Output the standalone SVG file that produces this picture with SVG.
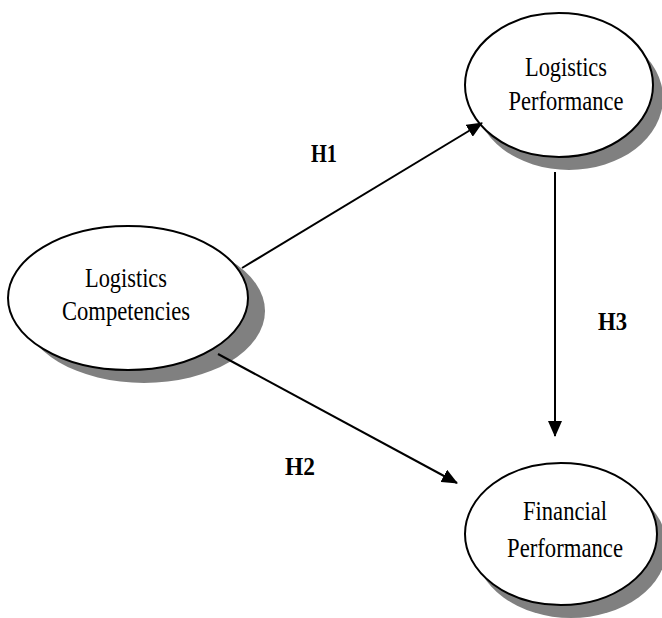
<svg xmlns="http://www.w3.org/2000/svg" width="662" height="618" viewBox="0 0 662 618">
  <style>
    .shadow { fill: #808080; stroke: none; }
    .node { fill: #ffffff; stroke: #000000; stroke-width: 2; }
    .label { font-family: "Liberation Serif", "Times New Roman", serif; font-size: 28px; fill: #000; text-anchor: middle; }
    .hyp { font-family: "Liberation Serif", "Times New Roman", serif; font-size: 26px; font-weight: bold; fill: #000; }
    .edge { stroke: #000; stroke-width: 2; fill: none; marker-end: url(#head); }
  </style>
  <defs>
    <marker id="head" viewBox="0 0 16 14" refX="15" refY="7" markerWidth="16" markerHeight="14" markerUnits="userSpaceOnUse" orient="auto">
      <path d="M0,0 L16,7 L0,14 Z" fill="#000"/>
    </marker>
  </defs>

  <rect width="662" height="618" fill="#ffffff"/>

  <g id="logistics-competencies">
    <ellipse class="shadow" cx="144" cy="311" rx="121" ry="72"/>
    <ellipse class="node" cx="128" cy="298" rx="120" ry="72"/>
    <text class="label" x="126" y="287" textLength="82" lengthAdjust="spacingAndGlyphs">Logistics</text>
    <text class="label" x="126" y="320" textLength="128" lengthAdjust="spacingAndGlyphs">Competencies</text>
  </g>

  <g id="logistics-performance">
    <ellipse class="shadow" cx="569" cy="98" rx="94" ry="72"/>
    <ellipse class="node" cx="559" cy="85" rx="94" ry="72"/>
    <text class="label" x="566" y="76" textLength="82" lengthAdjust="spacingAndGlyphs">Logistics</text>
    <text class="label" x="566" y="110" textLength="115" lengthAdjust="spacingAndGlyphs">Performance</text>
  </g>

  <g id="financial-performance">
    <ellipse class="shadow" cx="571" cy="547" rx="96" ry="71"/>
    <ellipse class="node" cx="561" cy="534" rx="96" ry="71"/>
    <text class="label" x="565" y="520" textLength="84" lengthAdjust="spacingAndGlyphs">Financial</text>
    <text class="label" x="565" y="557" textLength="116" lengthAdjust="spacingAndGlyphs">Performance</text>
  </g>

  <g id="connectors">
    <line class="edge" x1="242" y1="268" x2="482" y2="123"/>
    <line class="edge" x1="218" y1="354" x2="457" y2="483"/>
    <line class="edge" x1="555" y1="172" x2="555" y2="436"/>
  </g>

  <g id="hypotheses">
    <text class="hyp" x="311" y="162" textLength="26" lengthAdjust="spacingAndGlyphs">H1</text>
    <text class="hyp" x="285" y="475" textLength="30" lengthAdjust="spacingAndGlyphs">H2</text>
    <text class="hyp" x="598" y="330" textLength="29" lengthAdjust="spacingAndGlyphs">H3</text>
  </g>
</svg>
